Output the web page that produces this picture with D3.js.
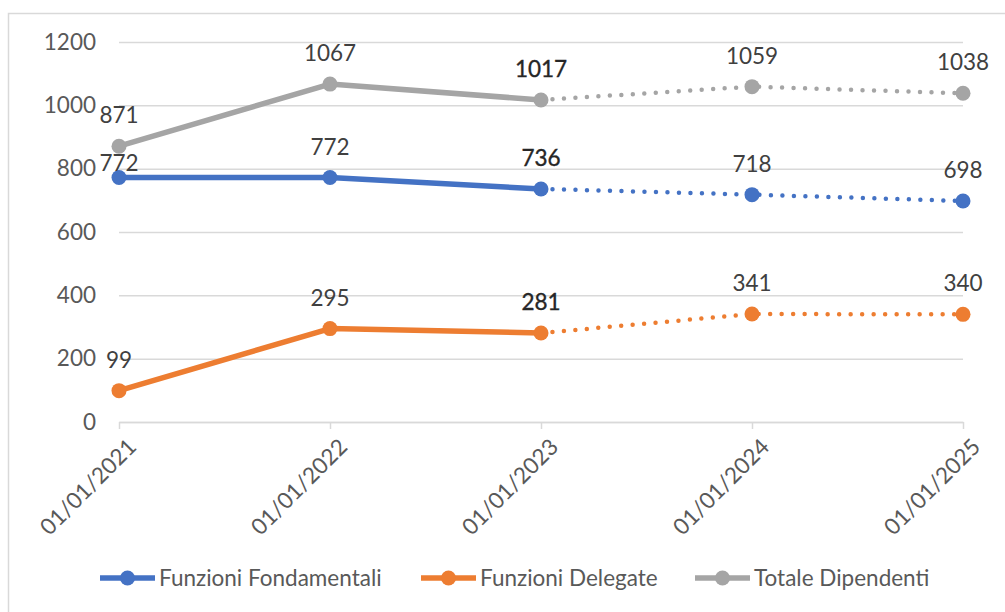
<!DOCTYPE html>
<html lang="it">
<head>
  <meta charset="UTF-8">
  <title></title>
  <style>
    body { margin: 0; background: #fff; }
  </style>
</head>
<body>
  <script src="https://d3js.org/d3.v7.min.js"></script>
  <script>
    const dates = ["01/01/2021", "01/01/2022", "01/01/2023", "01/01/2024", "01/01/2025"];
    const fondamentali = [772, 772, 736, 718, 698];
    const delegate = [99, 295, 281, 341, 340];
    const totale = [871, 1067, 1017, 1059, 1038];
    const yTicks = [0, 200, 400, 600, 800, 1000, 1200];
    // index from which the series is a projection (dotted)
    const lastActual = 2;

    const series = [
      { name: "Funzioni Fondamentali", values: fondamentali, color: "#4472C4" },
      { name: "Funzioni Delegate", values: delegate, color: "#ED7D31" },
      { name: "Totale Dipendenti", values: totale, color: "#A5A5A5" }
    ];

    const [width, height] = [1005, 612];
    const margin = { top: 42, right: 42, bottom: 190, left: 119 };
    const font = "Lato, 'Open Sans', sans-serif";
    const fs = 22.5;
    const r = 7.5;

    const x = d3.scalePoint()
      .domain(dates)
      .range([margin.left, width - margin.right]);

    const y = d3.scaleLinear()
      .domain([0, 1200])
      .range([height - margin.bottom, margin.top]);

    const svg = d3.select(document.body)
      .append("svg")
      .attr("width", width)
      .attr("height", height)
      .attr("font-family", font);

    svg.append("rect")
      .attr("x", 8.5).attr("y", 13.5)
      .attr("width", width).attr("height", height)
      .attr("fill", "#fff")
      .attr("stroke", "#D9D9D9")
      .attr("stroke-width", 1.5);

    // y axis: gridlines + labels
    svg.append("g")
      .attr("transform", `translate(${margin.left},0)`)
      .call(d3.axisLeft(y).tickValues(yTicks).tickFormat(d3.format("d"))
        .tickSize(-(width - margin.left - margin.right)).tickPadding(23))
      .call(g => g.select(".domain").remove())
      .call(g => g.selectAll(".tick line").attr("stroke", "#D9D9D9").attr("stroke-width", 1.5))
      .call(g => g.selectAll(".tick text")
        .attr("fill", "#595959")
        .attr("font-size", fs)
        .attr("font-family", font));

    // x axis
    svg.append("g")
      .attr("transform", `translate(0,${y(0)})`)
      .call(d3.axisBottom(x).tickSize(7).tickSizeOuter(0))
      .call(g => g.select(".domain").attr("stroke", "#D9D9D9").attr("stroke-width", 1.5))
      .call(g => g.selectAll(".tick line").attr("stroke", "#D9D9D9").attr("stroke-width", 1.5))
      .call(g => g.selectAll(".tick text")
        .attr("fill", "#595959")
        .attr("font-size", fs)
        .attr("font-family", font)
        .attr("text-anchor", "end")
        .attr("transform", "translate(0,8) rotate(-45)")
        .attr("dx", 0)
        .attr("dy", "0.7em"));

    const line = d3.line()
      .x(d => x(d.date))
      .y(d => y(d.value));

    // label baseline: above the point, pushed below another series' marker if they would collide
    const labelY = (si, i) => {
      const py = y(series[si].values[i]);
      let base = py - 23;
      series.forEach((o, oi) => {
        if (oi === si) return;
        const oy = y(o.values[i]);
        if (oy > base - fs * 0.75 - r && oy < base + r) base = oy + r + fs * 0.72 + 1;
      });
      return base;
    };

    series.forEach((s, si) => {
      const pts = s.values.map((v, i) => ({ date: dates[i], value: v, i }));
      const g = svg.append("g");
      g.append("path")
        .datum(pts.slice(0, lastActual + 1))
        .attr("fill", "none")
        .attr("stroke", s.color)
        .attr("stroke-width", 5.5)
        .attr("stroke-linejoin", "round")
        .attr("d", line);
      g.append("path")
        .datum(pts.slice(lastActual))
        .attr("fill", "none")
        .attr("stroke", s.color)
        .attr("stroke-width", 4.5)
        .attr("stroke-linecap", "round")
        .attr("stroke-dasharray", "0,11.5")
        .attr("d", line);
      g.selectAll("circle")
        .data(pts)
        .join("circle")
        .attr("cx", d => x(d.date))
        .attr("cy", d => y(d.value))
        .attr("r", r)
        .attr("fill", s.color);
      g.selectAll("text")
        .data(pts)
        .join("text")
        .attr("x", d => x(d.date))
        .attr("y", d => labelY(si, d.i))
        .attr("text-anchor", "middle")
        .attr("font-size", fs)
        .attr("fill", d => d.i === lastActual ? "#262626" : "#404040")
        .attr("stroke", d => d.i === lastActual ? "#262626" : "none")
        .attr("stroke-width", 0.35)
        .text(d => d.value);
    });

    // legend
    const legendX = [100, 421, 695];
    const legend = svg.append("g")
      .selectAll("g")
      .data(series)
      .join("g")
      .attr("transform", (d, i) => `translate(${legendX[i]},578)`);
    legend.append("line")
      .attr("x1", 0).attr("x2", 55)
      .attr("stroke", d => d.color)
      .attr("stroke-width", 5.5);
    legend.append("circle")
      .attr("cx", 27.5).attr("r", r)
      .attr("fill", d => d.color);
    legend.append("text")
      .attr("x", 59)
      .attr("dy", "0.36em")
      .attr("font-size", fs)
      .attr("fill", "#595959")
      .text(d => d.name);
  </script>
</body>
</html>
